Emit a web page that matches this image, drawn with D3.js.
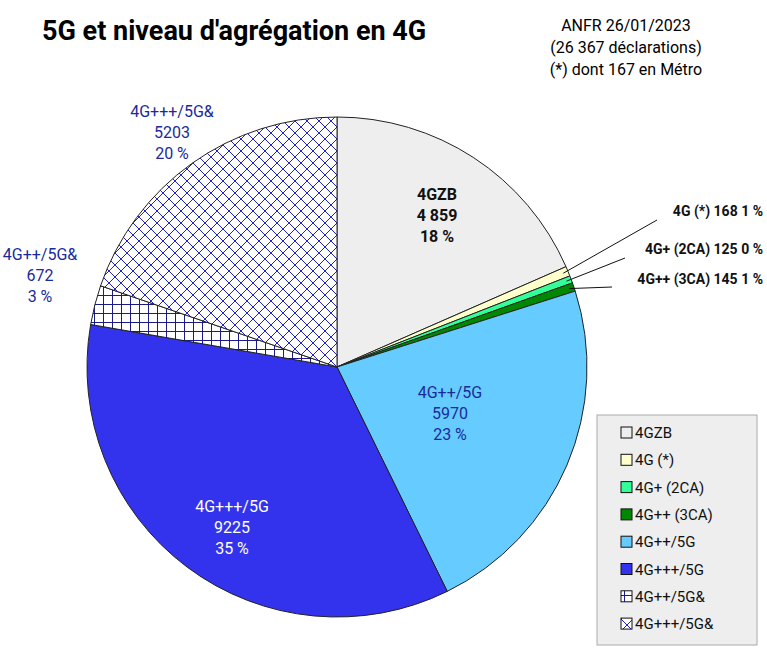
<!DOCTYPE html>
<html><head><meta charset="utf-8">
<script src="https://cdn.jsdelivr.net/npm/d3@7"></script>
<style>body{margin:0;background:#fff}text{font-family:Roboto,sans-serif}</style>
</head><body>
<svg id="c" width="767" height="652"></svg>
<script>
var categories = ['4GZB', '4G (*)', '4G+ (2CA)', '4G++ (3CA)', '4G++/5G', '4G+++/5G', '4G++/5G&', '4G+++/5G&'];
var values = [4859, 168, 125, 145, 5970, 9225, 672, 5203];
var valueLabels = ['4 859', '168', '125', '145', '5970', '9225', '672', '5203'];
var pctLabels = ['18 %', '1 %', '0 %', '1 %', '23 %', '35 %', '3 %', '20 %'];
var fills = ['#eeeeee', '#ffffcc', '#33ff99', '#008800', '#66ccff', '#3333ee', 'url(#grid)', 'url(#cross)'];

var svg = d3.select('#c');
var defs = svg.append('defs');
var g1 = defs.append('pattern').attr('id', 'grid').attr('patternUnits', 'userSpaceOnUse').attr('width', 9).attr('height', 9);
g1.append('rect').attr('width', 9).attr('height', 9).attr('fill', '#fff');
g1.append('path').attr('d', 'M0 0.5H9M0.5 0V9').attr('stroke', '#1a1a88').attr('stroke-width', 1);
var g2 = defs.append('pattern').attr('id', 'cross').attr('patternUnits', 'userSpaceOnUse').attr('width', 12).attr('height', 12);
g2.append('rect').attr('width', 12).attr('height', 12).attr('fill', '#fff');
g2.append('path').attr('d', 'M0 0L12 12M12 0L0 12').attr('stroke', '#2222cc').attr('stroke-width', 1);

svg.append('text').attr('x', 42).attr('y', 40).attr('font-size', 27).attr('font-weight', 'bold').text("5G et niveau d'agrégation en 4G");
['ANFR 26/01/2023', '(26 367 déclarations)', '(*) dont 167 en Métro'].forEach(function(t, i) {
  svg.append('text').attr('x', 626).attr('y', 31 + i * 22).attr('text-anchor', 'middle').attr('font-size', 16).text(t);
});

var cx = 337, cy = 367, r = 250;
var pie = d3.pie().sort(null).value(function(d) { return d; });
var arcs = pie(values);
var arc = d3.arc().innerRadius(0).outerRadius(r);
var g = svg.append('g').attr('transform', 'translate(' + cx + ',' + cy + ')');
g.selectAll('path').data(arcs).enter().append('path')
  .attr('d', arc).attr('fill', function(d, i) { return fills[i]; })
  .attr('stroke', '#222').attr('stroke-width', 1);

// inside / outside labels
var lab = [
  {i: 0, x: 437, y: 200, c: '#111'},
  {i: 4, x: 450, y: 398, c: '#1a2a9a'},
  {i: 5, x: 232, y: 512, c: '#fff'},
  {i: 6, x: 40, y: 260, c: '#1a2a9a'},
  {i: 7, x: 172, y: 117, c: '#1a2a9a'}
];
lab.forEach(function(l) {
  [categories[l.i], valueLabels[l.i], pctLabels[l.i]].forEach(function(t, k) {
    svg.append('text').attr('x', l.x).attr('y', l.y + k * 21).attr('text-anchor', 'middle')
      .attr('font-size', 16).attr('font-weight', l.i == 0 ? 'bold' : 'normal').attr('fill', l.c).text(t);
  });
});

// small slices with leader lines
var small = [{i: 1, x: 657, y: 220, ty: 216}, {i: 2, x: 625, y: 258, ty: 254}, {i: 3, x: 612, y: 287, ty: 284}];
small.forEach(function(s) {
  var a = (arcs[s.i].startAngle + arcs[s.i].endAngle) / 2;
  var px = cx + Math.sin(a) * r * 0.98, py = cy - Math.cos(a) * r * 0.98;
  svg.append('line').attr('x1', px).attr('y1', py).attr('x2', s.x).attr('y2', s.y).attr('stroke', '#111');
  svg.append('text').attr('x', 763).attr('y', s.ty).attr('text-anchor', 'end').attr('font-size', 14).attr('font-weight', 'bold')
    .attr('fill', '#111').text(categories[s.i] + ' ' + valueLabels[s.i] + ' ' + pctLabels[s.i]);
});

// legend
var lg = svg.append('g').attr('transform', 'translate(597,415)');
lg.append('rect').attr('width', 160).attr('height', 230).attr('fill', '#eeeeee').attr('stroke', '#aaa');
categories.forEach(function(c, i) {
  var y = 18 + i * 27.3;
  lg.append('rect').attr('x', 24).attr('y', y - 6).attr('width', 11).attr('height', 11).attr('fill', fills[i]).attr('stroke', '#111');
  lg.append('text').attr('x', 38).attr('y', y + 5).attr('font-size', 15).attr('fill', '#111').text(c);
});
</script>
</body></html>
